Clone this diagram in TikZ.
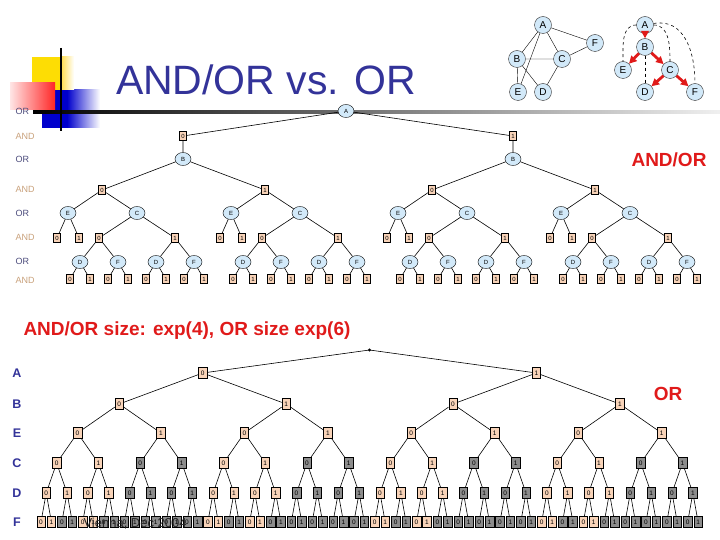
\documentclass[tikz,border=0pt]{standalone}
\usepackage{fontspec}
\setmainfont{Liberation Sans}
\usepackage{tikz}
\usetikzlibrary{arrows.meta, positioning, calc, shapes.geometric}

\definecolor{titleblue}{HTML}{333399}
\definecolor{nodeblue}{HTML}{D2E9F9}
\definecolor{peach}{HTML}{F8D3B8}
\definecolor{dupgray}{HTML}{8C8C8C}
\definecolor{andtan}{HTML}{C8A07A}
\definecolor{orslate}{HTML}{4C4C7C}
\definecolor{alertred}{HTML}{E01A1A}

\tikzset{
  ornode/.style={ellipse, draw, fill=nodeblue, inner sep=0pt, minimum width=16pt, minimum height=13pt, font=\fontsize{6}{6}\selectfont},
  andnode/.style={rectangle, draw, fill=peach, inner sep=0pt, minimum width=7pt, minimum height=9pt, font=\fontsize{6}{6}\selectfont},
  valnode/.style={rectangle, draw, inner sep=0pt, minimum width=8.5pt, minimum height=11pt, font=\fontsize{6.5}{6.5}\selectfont},
  gnode/.style={circle, draw=black!80, fill=nodeblue, inner sep=0pt, minimum size=17pt, font=\fontsize{10}{10}\selectfont},
  lvlor/.style={anchor=west, text=orslate, font=\fontsize{9}{9}\selectfont},
  lvland/.style={anchor=west, text=andtan, font=\fontsize{9}{9}\selectfont},
  varlbl/.style={text=titleblue, font=\fontsize{12.5}{12.5}\selectfont\bfseries},
  redtext/.style={anchor=base, text=alertred},
  treeedge/.style={line width=0.6pt},
  redarrow/.style={-{Triangle[length=7.5pt,width=7.5pt]}, line width=2.8pt, alertred},
  dashline/.style={dashed, line width=0.6pt},
}

\begin{document}
\begin{tikzpicture}[x=1pt, y=-1pt]
  \useasboundingbox (0,0) rectangle (720,540);

  % slide decoration
  \fill[blue!80!black] (42,90) rectangle (67,128);
  \shade[left color=blue!80!black, right color=white] (67,90) rectangle (100,128);
  \fill[yellow!80!orange] (32,57) rectangle (61,90);
  \shade[left color=yellow!60!orange!70, right color=white] (61,57) rectangle (74,90);
  \shade[left color=red!10, right color=red!85] (10,83) rectangle (55,110);
  \shade[left color=black, right color=black!6] (33,110.5) rectangle (720,113.5);
  \draw[line width=2.4pt] (61,48) -- (61,131);
  \node[anchor=base, text=titleblue, font=\fontsize{41}{41}\selectfont] (title) at (266,95) {AND/OR vs. OR};

  % primal graph
  \node[gnode] (ga) at (543,25) {A};
  \node[gnode] (gf) at (595,43) {F};
  \node[gnode] (gb) at (517,59) {B};
  \node[gnode] (gc) at (562,59) {C};
  \node[gnode] (ge) at (518,92) {E};
  \node[gnode] (gd) at (543,92) {D};
  \draw (ga) -- (gf) (ga) -- (gb) (ga) -- (gc) (ga) -- (ge);
  \draw (gb) -- (gc) (gb) -- (ge) (gb) -- (gd);
  \draw (gc) -- (gd) (gc) -- (gf);

  % pseudo tree
  \node[gnode] (ta) at (645,25) {A};
  \node[gnode] (tb) at (645,47) {B};
  \node[gnode] (te) at (623,70) {E};
  \node[gnode] (tc) at (670,70) {C};
  \node[gnode] (td) at (645,92) {D};
  \node[gnode] (tf) at (695,92) {F};
  \draw[dashline] (ta) to[out=180, in=90] (te);
  \draw[dashline] (ta) to[out=0, in=90] (tc);
  \draw[dashline] (ta) to[out=10, in=90, looseness=1.1] (tf);
  \draw[dashline] (tb) -- (td);
  \draw[redarrow] (ta) -- (tb);
  \draw[redarrow] (tb) -- (te);
  \draw[redarrow] (tb) -- (tc);
  \draw[redarrow] (tc) -- (td);
  \draw[redarrow] (tc) -- (tf);

  % AND/OR search tree
  \foreach \t/\y/\s in {OR/111/lvlor, AND/136/lvland, OR/159/lvlor, AND/189/lvland,
                        OR/213/lvlor, AND/237/lvland, OR/261/lvlor, AND/280/lvland}
    \node[\s] at (12,\y) {\t};
  \node[ornode] (u) at (346,111) {A};
  \foreach \a/\ax in {0/183,1/513} {
    \node[andnode] (u\a) at (\ax,136) {\a};
    \node[ornode] (u\a b) at (\ax,159) {B};
    \draw[treeedge] (u) -- (u\a) -- (u\a b);
    \foreach \b/\bx in {0/-81,1/82} {
      \node[andnode] (u\a\b) at ($(u\a b)+(\bx,31)$) {\b};
      \node[ornode] (u\a\b e) at ($(u\a\b)+(-34,23)$) {E};
      \node[ornode] (u\a\b c) at ($(u\a\b)+(35,23)$) {C};
      \draw[treeedge] (u\a b) -- (u\a\b);
      \draw[treeedge] (u\a\b e) -- (u\a\b) -- (u\a\b c);
      \foreach \e/\ex in {0/-11,1/11} {
        \node[andnode] (u\a\b e\e) at ($(u\a\b e)+(\ex,25)$) {\e};
        \draw[treeedge] (u\a\b e) -- (u\a\b e\e);
      }
      \foreach \c/\cx in {0/-38,1/38} {
        \node[andnode] (u\a\b c\c) at ($(u\a\b c)+(\cx,25)$) {\c};
        \draw[treeedge] (u\a\b c) -- (u\a\b c\c);
        \foreach \v/\vx/\vl in {d/-19/D,f/19/F} {
          \node[ornode] (u\a\b c\c\v) at ($(u\a\b c\c)+(\vx,24)$) {\vl};
          \draw[treeedge] (u\a\b c\c) -- (u\a\b c\c\v);
          \foreach \w/\wx in {0/-10,1/10} {
            \node[andnode] (u\a\b c\c\v\w) at ($(u\a\b c\c\v)+(\wx,17)$) {\w};
            \draw[treeedge] (u\a\b c\c\v) -- (u\a\b c\c\v\w);
          }
        }
      }
    }
  }
  \node[redtext, font=\fontsize{19}{19}\selectfont\bfseries] (aolbl) at (669,167) {AND/OR};

  % OR search tree
  \node[redtext, font=\fontsize{19}{19}\selectfont\bfseries] (sizelbl) at (187,335) {AND/OR size: exp(4), OR size exp(6)};
  \node[redtext, font=\fontsize{19}{19}\selectfont\bfseries] (orlbl) at (668,400) {OR};
  \fill (369.5,350) circle (1.6pt) coordinate (o0-0);
  \foreach \d/\y/\n/\t in {1/373/2/A, 2/404/4/B, 3/433/8/E, 4/463/16/C, 5/493/32/D, 6/522/64/F} {
    \node[varlbl] at (17,\y) {\t};
    \pgfmathtruncatemacro\last{\n-1}
    \pgfmathtruncatemacro\pd{\d-1}
    \foreach \j in {0,...,\last} {
      \pgfmathsetmacro\xx{41+10.43*(64/\n*\j+(64/\n-1)/2)}
      \pgfmathtruncatemacro\v{mod(\j,2)}
      \pgfmathtruncatemacro\p{\j/2}
      \pgfmathtruncatemacro\g{(\d>3)*min(1,mod(floor(\j/(2^(\d-3))),2)+(\d==6)*mod(floor(\j/2),2))}
      \def\col{peach}
      \ifnum\g=1 \def\col{dupgray}\fi
      \node[valnode, fill=\col] (o\d-\j) at (\xx,\y) {\v};
      \draw[treeedge] (o\pd-\p) -- (o\d-\j);
    }
  }
  \node[anchor=base west, text=black!85, font=\fontsize{13}{13}\selectfont] (footer) at (80,527) {Vienna, Dec 2004};
\end{tikzpicture}
\end{document}
